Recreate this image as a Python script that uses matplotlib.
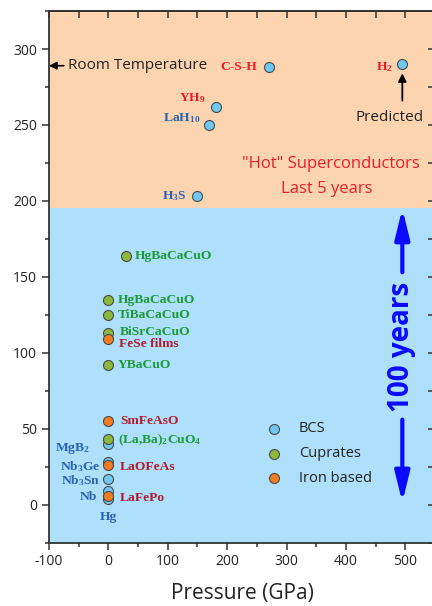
import matplotlib
matplotlib.use('Agg')
import matplotlib.pyplot as plt
from matplotlib.ticker import MultipleLocator

plt.rcParams['font.family'] = ['Open Sans', 'DejaVu Sans']
plt.rcParams['axes.unicode_minus'] = False
plt.rcParams['mathtext.fontset'] = 'custom'
plt.rcParams['mathtext.rm'] = 'Liberation Serif:bold'
plt.rcParams['mathtext.it'] = 'Liberation Serif:bold'
plt.rcParams['mathtext.bf'] = 'Liberation Serif:bold'

# BCS superconductors
bcs_names = ['C-S-H', 'H$_2$', 'YH$_9$', 'LaH$_{10}$', 'H$_3$S', 'MgB$_2$',
             'Nb$_3$Ge', 'Nb$_3$Sn', 'Nb', 'Hg']
bcs_pressure = [270, 495, 182, 170, 150, 0, 0, 0, 0, 0]
bcs_tc = [288, 290, 262, 250, 203, 40, 28, 17, 9, 4]

# cuprates
cup_names = ['HgBaCaCuO', 'HgBaCaCuO', 'TiBaCaCuO', 'BiSrCaCuO', 'YBaCuO',
             '(La,Ba)$_2$CuO$_4$']
cup_pressure = [30, 0, 0, 0, 0, 0]
cup_tc = [164, 135, 125, 113, 92, 43]

# iron based
fe_names = ['FeSe films', 'SmFeAsO', 'LaOFeAs', 'LaFePo']
fe_pressure = [0, 0, 0, 0]
fe_tc = [109, 55, 26, 6]

# label colour and offset (points) for each point
bcs_lbl = [('#e8202a', -8, 0, 'right'), ('#e8202a', -6.5, -2, 'right'),
           ('#e8202a', -8, 6, 'right'), ('#2a63b0', -6.5, 5, 'right'),
           ('#2a63b0', -8, 0, 'right'), ('#2a63b0', -13, -3, 'right'),
           ('#2a63b0', -6, -3, 'right'), ('#2a63b0', -6, -1.5, 'right'),
           ('#2a63b0', -8, -4, 'right'), ('#2a63b0', 0, -13, 'center')]
cup_lbl = [(6.5, 0), (6.7, 0), (6.7, 0), (8, 1), (6.7, 0), (7, -1)]
fe_lbl = [(8, -3.5), (8.5, 0), (8, -1.5), (8, -1.5)]

peach = '#fdd4b0'
sky = '#aee0fb'
c_bcs = '#70c8f2'
c_cup = '#8cb83c'
c_fe = '#f47c20'
green_txt = '#1c9a3a'
dred_txt = '#b01c2e'

fig = plt.figure(figsize=(4.32, 6.06), dpi=100)
ax = fig.add_axes([0.1134, 0.1045, 0.8935, 0.8773])
ax.set_xlim(-100, 550)
ax.set_ylim(-25, 325)

ax.axhspan(195, 325, color=peach, zorder=0, lw=0)
ax.axhspan(-25, 195, color=sky, zorder=0, lw=0)

mk = dict(s=52, edgecolors='#4a4a4a', linewidths=0.8, zorder=3)
ax.scatter(bcs_pressure, bcs_tc, color=c_bcs, label='BCS', **mk)
ax.scatter(cup_pressure, cup_tc, color=c_cup, label='Cuprates', **mk)
ax.scatter(fe_pressure, fe_tc, color=c_fe, label='Iron based', **mk)

lab = dict(textcoords='offset points', va='center', fontsize=9.7,
           fontweight='bold', family='Liberation Serif', zorder=4)
for n, x, y, (c, dx, dy, ha) in zip(bcs_names, bcs_pressure, bcs_tc, bcs_lbl):
    ax.annotate(n, (x, y), xytext=(dx, dy), color=c, ha=ha, **lab)
for n, x, y, (dx, dy) in zip(cup_names, cup_pressure, cup_tc, cup_lbl):
    ax.annotate(n, (x, y), xytext=(dx, dy), color=green_txt, ha='left', **lab)
for n, x, y, (dx, dy) in zip(fe_names, fe_pressure, fe_tc, fe_lbl):
    ax.annotate(n, (x, y), xytext=(dx, dy), color=dred_txt, ha='left', **lab)

# annotations
ax.annotate('Room Temperature', xy=(-100, 289), xytext=(-68, 289),
            fontsize=11, va='center', ha='left', color='#222222',
            arrowprops=dict(arrowstyle='-|>', color='black', lw=1.2,
                            mutation_scale=11, shrinkA=1, shrinkB=0))
ax.annotate('', xy=(495, 284), xytext=(495, 266),
            arrowprops=dict(arrowstyle='-|>', color='black', lw=1.3,
                            mutation_scale=12, shrinkA=0, shrinkB=0))
ax.text(474, 255, 'Predicted', fontsize=11, ha='center', va='center',
        color='#222222')
ax.text(375, 224, '"Hot" Superconductors', fontsize=12, ha='center',
        va='center', color='#e8202a')
ax.text(368, 208, 'Last 5 years', fontsize=12, ha='center', va='center',
        color='#e8202a')

arr = dict(arrowstyle='-|>,head_length=0.9,head_width=0.22', color='#0a0aff',
           lw=3, mutation_scale=20, shrinkA=0, shrinkB=0)
ax.annotate('', xy=(495, 195), xytext=(495, 153), arrowprops=arr)
ax.annotate('', xy=(495, 1.5), xytext=(495, 56), arrowprops=arr)
ax.text(493, 104, '100 years', rotation=90, fontsize=20, fontweight='bold',
        color='#0a0aff', ha='center', va='center')

leg = ax.legend(loc='upper left', bbox_to_anchor=(0.562, 0.228), frameon=False,
                fontsize=10.5, handlelength=1.1, handletextpad=1.15,
                labelspacing=0.68, borderpad=0, borderaxespad=0)
for t in leg.get_texts():
    t.set_color('#222222')

ax.set_xlabel('Pressure (GPa)', fontsize=15, color='#222222', labelpad=10)
ax.set_ylabel('T$_c$ (K)', fontsize=15)
ax.yaxis.set_label_coords(-0.119, 0.5)

ax.xaxis.set_major_locator(MultipleLocator(100))
ax.xaxis.set_minor_locator(MultipleLocator(50))
ax.yaxis.set_major_locator(MultipleLocator(50))
ax.yaxis.set_minor_locator(MultipleLocator(25))
ax.tick_params(which='both', direction='out', width=1.1, color='#333333',
               labelsize=10, labelcolor='#222222')
ax.tick_params(which='major', length=5)
ax.tick_params(which='minor', length=3)

# inward ticks on the top and right edges
top = ax.secondary_xaxis('top')
top.xaxis.set_major_locator(MultipleLocator(50))
top.tick_params(direction='in', length=5, width=1.1, color='#333333',
                labeltop=False)
right = ax.secondary_yaxis('right')
right.yaxis.set_major_locator(MultipleLocator(25))
right.tick_params(direction='in', length=5, width=1.1, color='#333333',
                  labelright=False)
for a in (ax, top, right):
    for s in a.spines.values():
        s.set_color('#333333')
        s.set_linewidth(1.3)

fig.savefig('out.png', dpi=100)
